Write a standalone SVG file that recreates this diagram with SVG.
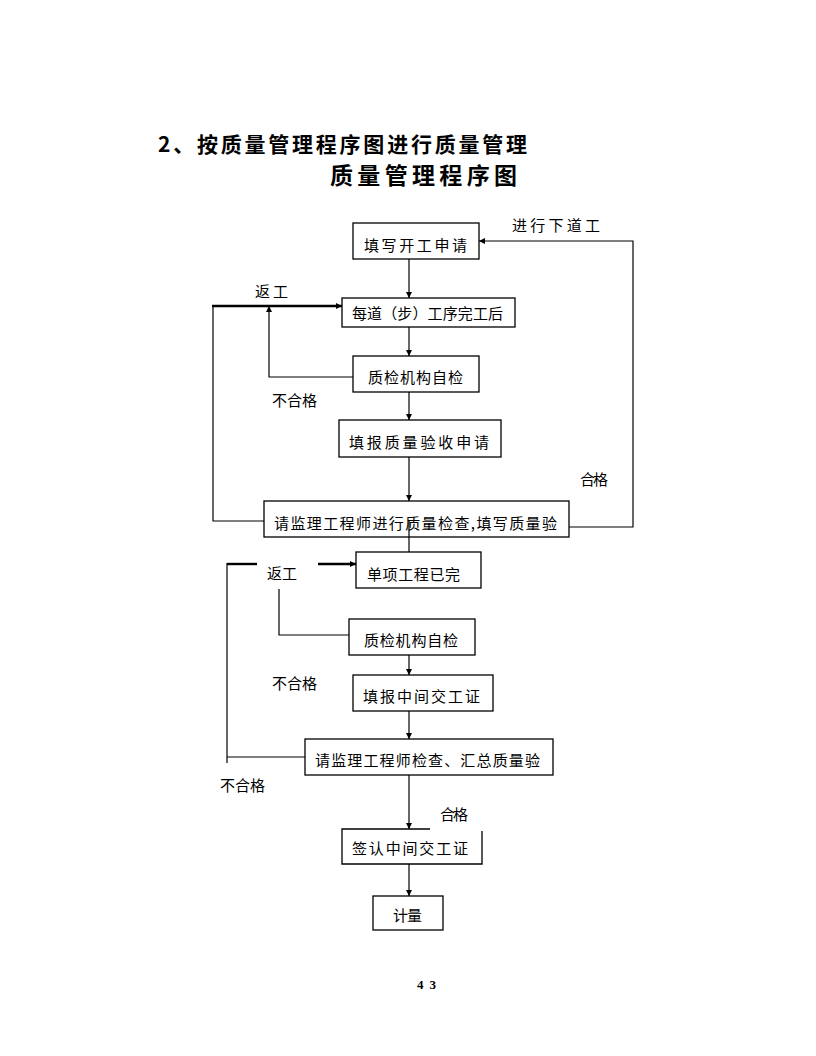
<svg xmlns="http://www.w3.org/2000/svg" width="816" height="1056" viewBox="0 0 816 1056">
<defs>
<marker id="ah" viewBox="0 0 8 8" refX="8" refY="4" markerWidth="6" markerHeight="6" markerUnits="userSpaceOnUse" orient="auto">
<path d="M0,0 L8,4 L0,8 z" fill="#000"/>
</marker>
<style>
.box{fill:#fff;stroke:#000;stroke-width:1.3}
.t{font-family:"Noto Sans CJK SC","Noto Sans",sans-serif;font-size:15px;fill:#000}
.lbl{font-family:"Noto Sans CJK SC","Noto Sans",sans-serif;font-size:15px;fill:#000}
.ttl{font-family:"Noto Sans CJK SC",sans-serif;font-weight:bold;fill:#000}
.ln{fill:none;stroke:#000;stroke-width:1.2}
.thick{fill:none;stroke:#000;stroke-width:2.4}
.arr{marker-end:url(#ah)}
</style>
</defs>
<rect width="816" height="1056" fill="#fff"/>
<g id="title">
<text class="ttl" x="158" y="152" font-size="21" textLength="369" lengthAdjust="spacing">2、按质量管理程序图进行质量管理</text>
<text class="ttl" x="330" y="184" font-size="23" textLength="187" lengthAdjust="spacing">质量管理程序图</text>
</g>
<g id="connectors">
<line class="ln arr" x1="409" y1="259" x2="409" y2="298"/>
<line class="ln arr" x1="409" y1="327" x2="409" y2="356"/>
<line class="ln arr" x1="409" y1="387" x2="409" y2="420"/>
<line class="ln arr" x1="409" y1="457" x2="409" y2="501"/>
<line class="ln arr" x1="409" y1="522" x2="409" y2="559"/>
<polyline class="ln arr" points="565,527 633,527 633,241 479,241"/>
<polyline class="ln" points="264,521 213,521 213,306"/>
<line class="thick arr" x1="212" y1="306" x2="342" y2="306"/>
<polyline class="ln arr" points="353,377 269,377 269,306"/>
<line class="thick" x1="227" y1="564" x2="257" y2="564"/>
<line class="thick arr" x1="318" y1="564" x2="356" y2="564"/>
<polyline class="ln" points="227,563 227,763"/>
<line class="ln" x1="227" y1="757" x2="305" y2="757"/>
<polyline class="ln" points="349,635 279,635 279,589"/>
<line class="ln arr" x1="409" y1="647" x2="409" y2="675"/>
<line class="ln arr" x1="409" y1="708" x2="409" y2="739"/>
<line class="ln arr" x1="409" y1="773" x2="409" y2="829"/>
<line class="ln arr" x1="409" y1="862" x2="409" y2="896"/>
</g>
<g id="labels">
<text class="lbl" x="512" y="231" font-size="14" textLength="88" lengthAdjust="spacing">进行下道工</text>
<text class="lbl" x="255" y="297" textLength="33" lengthAdjust="spacing">返工</text>
<text class="lbl" x="272" y="406" textLength="45" lengthAdjust="spacing">不合格</text>
<text class="lbl" x="580" y="485" font-size="14" textLength="28" lengthAdjust="spacing">合格</text>
<text class="lbl" x="267" y="579" textLength="30" lengthAdjust="spacing">返工</text>
<text class="lbl" x="272" y="689" textLength="45" lengthAdjust="spacing">不合格</text>
<text class="lbl" x="220" y="791" textLength="45" lengthAdjust="spacing">不合格</text>
<text class="lbl" x="440" y="820" font-size="14" textLength="28" lengthAdjust="spacing">合格</text>
</g>
<g id="n1"><rect class="box" x="353" y="223" width="126" height="36"/><text class="t" x="364" y="251" textLength="103" lengthAdjust="spacing">填写开工申请</text></g>
<g id="n2"><rect class="box" x="342" y="298" width="173" height="29"/><text class="t" x="352" y="319" textLength="151" lengthAdjust="spacing">每道（步）工序完工后</text></g>
<g id="n3"><rect class="box" x="353" y="356" width="126" height="36"/><text class="t" x="368" y="383" textLength="95" lengthAdjust="spacing">质检机构自检</text></g>
<g id="n4"><rect class="box" x="339" y="420" width="162" height="37"/><text class="t" x="349" y="448" textLength="140" lengthAdjust="spacing">填报质量验收申请</text></g>
<g id="n5"><rect class="box" x="264" y="501" width="305" height="36"/><line class="ln" x1="409" y1="520" x2="409" y2="537"/><text class="t" x="274" y="529" textLength="283" lengthAdjust="spacing">请监理工程师进行质量检查,填写质量验</text></g>
<g id="n6"><rect class="box" x="356" y="552" width="125" height="36"/><text class="t" x="367" y="580" textLength="93" lengthAdjust="spacing">单项工程已完</text></g>
<g id="n7"><rect class="box" x="349" y="619" width="126" height="36"/><text class="t" x="364" y="646" textLength="94" lengthAdjust="spacing">质检机构自检</text></g>
<g id="n8"><rect class="box" x="353" y="675" width="140" height="36"/><text class="t" x="363" y="702" textLength="117" lengthAdjust="spacing">填报中间交工证</text></g>
<g id="n9"><rect class="box" x="305" y="739" width="248" height="36"/><text class="t" x="315" y="766" textLength="225" lengthAdjust="spacing">请监理工程师检查、汇总质量验</text></g>
<g id="n10"><path class="box" d="M430,829 L342,829 L342,864 L482,864 L482,831"/><text class="t" x="352" y="854" textLength="116" lengthAdjust="spacing">签认中间交工证</text></g>
<g id="n11"><rect class="box" x="373" y="896" width="70" height="34"/><text class="t" x="393" y="921" textLength="29" lengthAdjust="spacing">计量</text></g>
<g id="page"><text x="417" y="989" font-family="Liberation Serif,serif" font-weight="bold" font-size="13" textLength="19" lengthAdjust="spacing">4 3</text></g>
</svg>
